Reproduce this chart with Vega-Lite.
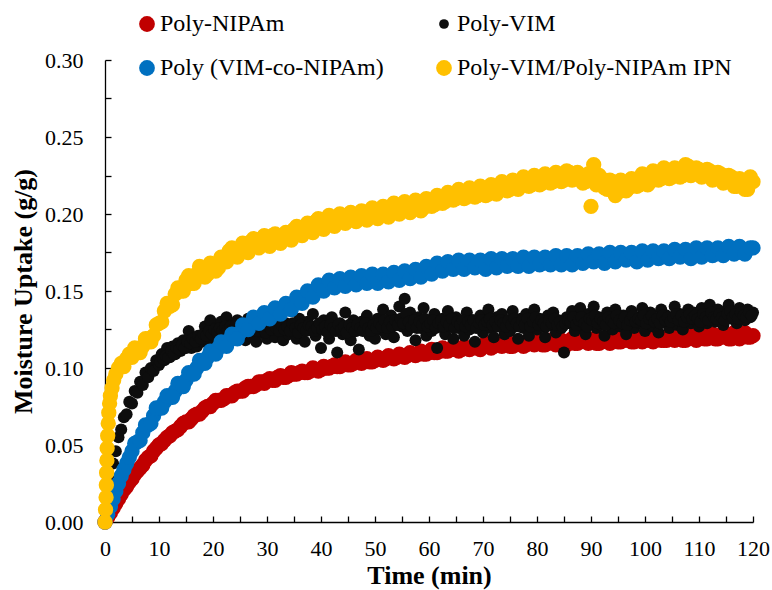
{
  "$schema": "https://vega.github.io/schema/vega-lite/v6.json",
  "width": 648,
  "height": 462,
  "autosize": {"type": "none"},
  "padding": {"left": 105, "top": 60, "right": 19, "bottom": 68},
  "background": "white",
  "config": {
    "view": {"stroke": null},
    "font": "Liberation Serif, Times New Roman, serif",
    "axis": {
      "grid": false,
      "domainColor": "#000000",
      "domainWidth": 1.3,
      "tickColor": "#000000",
      "tickWidth": 1.3,
      "tickSize": -6,
      "labelColor": "#000000",
      "labelFont": "Liberation Serif, Times New Roman, serif",
      "labelFontSize": 22,
      "titleFont": "Liberation Serif, Times New Roman, serif",
      "titleFontSize": 26,
      "titleFontWeight": "bold",
      "titleColor": "#000000"
    }
  },
  "datasets": {
    "nipam": [
      {"t":0,"y":0},{"t":0.5,"y":0.003},{"t":1,"y":0.006},{"t":1.5,"y":0.009},{"t":2,"y":0.012},{"t":2.5,"y":0.015},{"t":3,"y":0.018},{"t":3.5,"y":0.021},{"t":4,"y":0.023},{"t":4.5,"y":0.026},
      {"t":5,"y":0.028},{"t":6,"y":0.033},{"t":7,"y":0.037},{"t":8,"y":0.042},{"t":9,"y":0.046},{"t":10,"y":0.050},{"t":11,"y":0.053},{"t":12,"y":0.056},{"t":13,"y":0.059},{"t":14,"y":0.062},
      {"t":15,"y":0.065},{"t":16,"y":0.067},{"t":17,"y":0.070},{"t":18,"y":0.072},{"t":19,"y":0.075},{"t":20,"y":0.077},{"t":21,"y":0.079},{"t":22,"y":0.080},{"t":23,"y":0.082},{"t":24,"y":0.084},
      {"t":25,"y":0.085},{"t":26,"y":0.087},{"t":27,"y":0.088},{"t":28,"y":0.089},{"t":29,"y":0.091},{"t":30,"y":0.092},{"t":31,"y":0.092},{"t":32,"y":0.094},{"t":33,"y":0.094},{"t":34,"y":0.095},
      {"t":35,"y":0.096},{"t":36,"y":0.097},{"t":37,"y":0.097},{"t":38,"y":0.098},{"t":39,"y":0.099},{"t":40,"y":0.099},{"t":41,"y":0.100},{"t":42,"y":0.101},{"t":43,"y":0.101},{"t":44,"y":0.102},
      {"t":45,"y":0.102},{"t":46,"y":0.103},{"t":47,"y":0.104},{"t":48,"y":0.104},{"t":49,"y":0.104},{"t":50,"y":0.105},{"t":51,"y":0.106},{"t":52,"y":0.106},{"t":53,"y":0.107},{"t":54,"y":0.107},
      {"t":55,"y":0.108},{"t":56,"y":0.108},{"t":57,"y":0.109},{"t":58,"y":0.109},{"t":59,"y":0.109},{"t":60,"y":0.110},{"t":61,"y":0.110},{"t":62,"y":0.111},{"t":63,"y":0.111},{"t":64,"y":0.112},
      {"t":65,"y":0.112},{"t":66,"y":0.112},{"t":67,"y":0.113},{"t":68,"y":0.113},{"t":69,"y":0.113},{"t":70,"y":0.114},{"t":71,"y":0.114},{"t":72,"y":0.114},{"t":73,"y":0.115},{"t":74,"y":0.115},
      {"t":75,"y":0.114},{"t":76,"y":0.115},{"t":77,"y":0.116},{"t":78,"y":0.115},{"t":79,"y":0.116},{"t":80,"y":0.116},{"t":81,"y":0.115},{"t":82,"y":0.116},{"t":83,"y":0.117},{"t":84,"y":0.116},
      {"t":85,"y":0.116},{"t":86,"y":0.117},{"t":87,"y":0.116},{"t":88,"y":0.117},{"t":89,"y":0.117},{"t":90,"y":0.117},{"t":91,"y":0.116},{"t":92,"y":0.117},{"t":93,"y":0.118},{"t":94,"y":0.117},
      {"t":95,"y":0.117},{"t":96,"y":0.118},{"t":97,"y":0.118},{"t":98,"y":0.117},{"t":99,"y":0.118},{"t":100,"y":0.118},{"t":101,"y":0.118},{"t":102,"y":0.119},{"t":103,"y":0.118},{"t":104,"y":0.118},
      {"t":105,"y":0.119},{"t":106,"y":0.119},{"t":107,"y":0.118},{"t":108,"y":0.119},{"t":109,"y":0.120},{"t":110,"y":0.119},{"t":111,"y":0.119},{"t":112,"y":0.120},{"t":113,"y":0.119},{"t":114,"y":0.120},
      {"t":115,"y":0.120},{"t":116,"y":0.119},{"t":117,"y":0.120},{"t":118,"y":0.121},{"t":119,"y":0.120},{"t":120,"y":0.121},
      {"t":5.5,"y":0.031},{"t":6.5,"y":0.035},{"t":7.5,"y":0.040},{"t":8.5,"y":0.043},{"t":9.5,"y":0.048},{"t":10.5,"y":0.051},{"t":11.5,"y":0.055},{"t":12.5,"y":0.058},{"t":13.5,"y":0.060},{"t":14.5,"y":0.064},
      {"t":15.5,"y":0.065},{"t":16.5,"y":0.069},{"t":17.5,"y":0.070},{"t":18.5,"y":0.074},{"t":19.5,"y":0.075},{"t":20.5,"y":0.079},{"t":21.5,"y":0.079},{"t":22.5,"y":0.082},{"t":23.5,"y":0.082},{"t":24.5,"y":0.085},
      {"t":25.5,"y":0.085},{"t":26.5,"y":0.088},{"t":27.5,"y":0.088},{"t":28.5,"y":0.091},{"t":29.5,"y":0.090},{"t":30.5,"y":0.093},{"t":31.5,"y":0.092},{"t":32.5,"y":0.095},{"t":33.5,"y":0.094},{"t":34.5,"y":0.097},
      {"t":35.5,"y":0.096},{"t":36.5,"y":0.098},{"t":37.5,"y":0.097},{"t":38.5,"y":0.100},{"t":39.5,"y":0.098},{"t":40.5,"y":0.101},{"t":41.5,"y":0.100},{"t":42.5,"y":0.102},{"t":43.5,"y":0.101},{"t":44.5,"y":0.104},
      {"t":45.5,"y":0.102},{"t":46.5,"y":0.105},{"t":47.5,"y":0.103},{"t":48.5,"y":0.106},{"t":49.5,"y":0.104},{"t":50.5,"y":0.107},{"t":51.5,"y":0.105},{"t":52.5,"y":0.108},{"t":53.5,"y":0.106},{"t":54.5,"y":0.109},
      {"t":55.5,"y":0.107},{"t":56.5,"y":0.110},{"t":57.5,"y":0.108},{"t":58.5,"y":0.111},{"t":59.5,"y":0.109},{"t":60.5,"y":0.112},{"t":61.5,"y":0.110},{"t":62.5,"y":0.113},{"t":63.5,"y":0.111},{"t":64.5,"y":0.114},
      {"t":65.5,"y":0.111},{"t":66.5,"y":0.114},{"t":67.5,"y":0.112},{"t":68.5,"y":0.115},{"t":69.5,"y":0.112},{"t":70.5,"y":0.116},{"t":71.5,"y":0.113},{"t":72.5,"y":0.116},{"t":73.5,"y":0.114},{"t":74.5,"y":0.117},
      {"t":75.5,"y":0.114},{"t":76.5,"y":0.117},{"t":77.5,"y":0.114},{"t":78.5,"y":0.118},{"t":79.5,"y":0.115},{"t":80.5,"y":0.118},{"t":81.5,"y":0.115},{"t":82.5,"y":0.118},{"t":83.5,"y":0.115},{"t":84.5,"y":0.118},
      {"t":85.5,"y":0.115},{"t":86.5,"y":0.119},{"t":87.5,"y":0.116},{"t":88.5,"y":0.119},{"t":89.5,"y":0.116},{"t":90.5,"y":0.119},{"t":91.5,"y":0.116},{"t":92.5,"y":0.119},{"t":93.5,"y":0.116},{"t":94.5,"y":0.120},
      {"t":95.5,"y":0.117},{"t":96.5,"y":0.120},{"t":97.5,"y":0.117},{"t":98.5,"y":0.120},{"t":99.5,"y":0.117},{"t":100.5,"y":0.121},{"t":101.5,"y":0.117},{"t":102.5,"y":0.121},{"t":103.5,"y":0.118},{"t":104.5,"y":0.121},
      {"t":105.5,"y":0.118},{"t":106.5,"y":0.121},{"t":107.5,"y":0.118},{"t":108.5,"y":0.122},{"t":109.5,"y":0.118},{"t":110.5,"y":0.122},{"t":111.5,"y":0.119},{"t":112.5,"y":0.122},{"t":113.5,"y":0.119},{"t":114.5,"y":0.123},
      {"t":115.5,"y":0.119},{"t":116.5,"y":0.123},{"t":117.5,"y":0.119},{"t":118.5,"y":0.123},{"t":119.5,"y":0.120}
    ],
    "vim": [
      {"t":0,"y":0},{"t":0.5,"y":0.015},{"t":1,"y":0.027},{"t":1.5,"y":0.038},{"t":2,"y":0.046},{"t":2.5,"y":0.055},{"t":3,"y":0.060},{"t":3.5,"y":0.068},{"t":4,"y":0.070},{"t":4.5,"y":0.078},
      {"t":5,"y":0.077},{"t":5.5,"y":0.085},{"t":6,"y":0.084},{"t":6.5,"y":0.091},{"t":7,"y":0.089},{"t":7.5,"y":0.097},{"t":8,"y":0.094},{"t":8.5,"y":0.100},{"t":9,"y":0.098},{"t":9.5,"y":0.105},
      {"t":10,"y":0.102},{"t":10.5,"y":0.109},{"t":11,"y":0.105},{"t":11.5,"y":0.113},{"t":12,"y":0.107},{"t":12.5,"y":0.114},{"t":13,"y":0.109},{"t":13.5,"y":0.116},{"t":14,"y":0.111},{"t":14.5,"y":0.118},
      {"t":15,"y":0.113},{"t":15.5,"y":0.124},{"t":16,"y":0.113},{"t":16.5,"y":0.119},{"t":17,"y":0.114},{"t":17.5,"y":0.121},{"t":18,"y":0.117},{"t":18.5,"y":0.127},{"t":19,"y":0.118},{"t":19.5,"y":0.131},
      {"t":20,"y":0.119},{"t":20.5,"y":0.126},{"t":21,"y":0.121},{"t":21.5,"y":0.130},{"t":22,"y":0.119},{"t":22.5,"y":0.133},{"t":23,"y":0.122},{"t":23.5,"y":0.128},{"t":24,"y":0.120},{"t":24.5,"y":0.131},
      {"t":25,"y":0.122},{"t":25.5,"y":0.129},{"t":26,"y":0.118},{"t":26.5,"y":0.132},{"t":27,"y":0.121},{"t":27.5,"y":0.127},{"t":28,"y":0.117},{"t":28.5,"y":0.133},{"t":29,"y":0.123},{"t":29.5,"y":0.128},
      {"t":30,"y":0.119},{"t":30.5,"y":0.134},{"t":31,"y":0.124},{"t":31.5,"y":0.120},{"t":32,"y":0.131},{"t":32.5,"y":0.125},{"t":33,"y":0.118},{"t":33.5,"y":0.129},{"t":34,"y":0.122},{"t":34.5,"y":0.137},
      {"t":35,"y":0.126},{"t":35.5,"y":0.119},{"t":36,"y":0.132},{"t":36.5,"y":0.124},{"t":37,"y":0.117},{"t":37.5,"y":0.130},{"t":38,"y":0.125},{"t":38.5,"y":0.135},{"t":39,"y":0.121},{"t":39.5,"y":0.128},
      {"t":40,"y":0.113},{"t":40.5,"y":0.131},{"t":41,"y":0.124},{"t":41.5,"y":0.119},{"t":42,"y":0.133},{"t":42.5,"y":0.126},{"t":43,"y":0.110},{"t":43.5,"y":0.129},{"t":44,"y":0.122},{"t":44.5,"y":0.136},
      {"t":45,"y":0.125},{"t":45.5,"y":0.118},{"t":46,"y":0.131},{"t":46.5,"y":0.124},{"t":47,"y":0.112},{"t":47.5,"y":0.130},{"t":48,"y":0.127},{"t":48.5,"y":0.134},{"t":49,"y":0.121},{"t":49.5,"y":0.128},
      {"t":50,"y":0.119},{"t":50.5,"y":0.132},{"t":51,"y":0.125},{"t":51.5,"y":0.138},{"t":52,"y":0.122},{"t":52.5,"y":0.129},{"t":53,"y":0.134},{"t":53.5,"y":0.120},{"t":54,"y":0.131},{"t":54.5,"y":0.140},
      {"t":55,"y":0.127},{"t":55.5,"y":0.145},{"t":56,"y":0.124},{"t":56.5,"y":0.136},{"t":57,"y":0.129},{"t":57.5,"y":0.118},{"t":58,"y":0.133},{"t":58.5,"y":0.126},{"t":59,"y":0.139},{"t":59.5,"y":0.121},
      {"t":60,"y":0.130},{"t":60.5,"y":0.124},{"t":61,"y":0.135},{"t":61.5,"y":0.113},{"t":62,"y":0.128},{"t":62.5,"y":0.132},{"t":63,"y":0.122},{"t":63.5,"y":0.137},{"t":64,"y":0.127},{"t":64.5,"y":0.119},
      {"t":65,"y":0.133},{"t":65.5,"y":0.126},{"t":66,"y":0.130},{"t":66.5,"y":0.121},{"t":67,"y":0.136},{"t":67.5,"y":0.125},{"t":68,"y":0.131},{"t":68.5,"y":0.117},{"t":69,"y":0.129},{"t":69.5,"y":0.134},
      {"t":70,"y":0.123},{"t":70.5,"y":0.131},{"t":71,"y":0.138},{"t":71.5,"y":0.126},{"t":72,"y":0.120},{"t":72.5,"y":0.133},{"t":73,"y":0.128},{"t":73.5,"y":0.135},{"t":74,"y":0.122},{"t":74.5,"y":0.130},
      {"t":75,"y":0.124},{"t":75.5,"y":0.137},{"t":76,"y":0.127},{"t":76.5,"y":0.119},{"t":77,"y":0.132},{"t":77.5,"y":0.126},{"t":78,"y":0.135},{"t":78.5,"y":0.121},{"t":79,"y":0.130},{"t":79.5,"y":0.138},
      {"t":80,"y":0.125},{"t":80.5,"y":0.132},{"t":81,"y":0.127},{"t":81.5,"y":0.120},{"t":82,"y":0.134},{"t":82.5,"y":0.128},{"t":83,"y":0.136},{"t":83.5,"y":0.123},{"t":84,"y":0.131},{"t":84.5,"y":0.126},
      {"t":85,"y":0.110},{"t":85.5,"y":0.133},{"t":86,"y":0.129},{"t":86.5,"y":0.137},{"t":87,"y":0.124},{"t":87.5,"y":0.131},{"t":88,"y":0.139},{"t":88.5,"y":0.127},{"t":89,"y":0.122},{"t":89.5,"y":0.135},
      {"t":90,"y":0.130},{"t":90.5,"y":0.140},{"t":91,"y":0.126},{"t":91.5,"y":0.133},{"t":92,"y":0.128},{"t":92.5,"y":0.121},{"t":93,"y":0.136},{"t":93.5,"y":0.130},{"t":94,"y":0.125},{"t":94.5,"y":0.138},
      {"t":95,"y":0.131},{"t":95.5,"y":0.127},{"t":96,"y":0.134},{"t":96.5,"y":0.122},{"t":97,"y":0.130},{"t":97.5,"y":0.137},{"t":98,"y":0.126},{"t":98.5,"y":0.133},{"t":99,"y":0.129},{"t":99.5,"y":0.139},
      {"t":100,"y":0.124},{"t":100.5,"y":0.132},{"t":101,"y":0.136},{"t":101.5,"y":0.127},{"t":102,"y":0.131},{"t":102.5,"y":0.123},{"t":103,"y":0.138},{"t":103.5,"y":0.130},{"t":104,"y":0.134},{"t":104.5,"y":0.126},
      {"t":105,"y":0.132},{"t":105.5,"y":0.140},{"t":106,"y":0.128},{"t":106.5,"y":0.135},{"t":107,"y":0.125},{"t":107.5,"y":0.133},{"t":108,"y":0.138},{"t":108.5,"y":0.129},{"t":109,"y":0.136},{"t":109.5,"y":0.131},
      {"t":110,"y":0.127},{"t":110.5,"y":0.139},{"t":111,"y":0.133},{"t":111.5,"y":0.129},{"t":112,"y":0.141},{"t":112.5,"y":0.135},{"t":113,"y":0.130},{"t":113.5,"y":0.138},{"t":114,"y":0.133},{"t":114.5,"y":0.128},
      {"t":115,"y":0.137},{"t":115.5,"y":0.141},{"t":116,"y":0.132},{"t":116.5,"y":0.136},{"t":117,"y":0.129},{"t":117.5,"y":0.139},{"t":118,"y":0.134},{"t":118.5,"y":0.131},{"t":119,"y":0.138},{"t":119.5,"y":0.133},
      {"t":120,"y":0.136},
      {"t":10.25,"y":0.104},{"t":10.75,"y":0.106},{"t":11.25,"y":0.108},{"t":11.75,"y":0.107},{"t":12.25,"y":0.111},{"t":12.75,"y":0.109},{"t":13.25,"y":0.113},{"t":13.75,"y":0.112},{"t":14.25,"y":0.115},{"t":14.75,"y":0.113},
      {"t":15.25,"y":0.117},{"t":15.75,"y":0.116},{"t":16.25,"y":0.119},{"t":16.75,"y":0.117},{"t":17.25,"y":0.121},{"t":17.75,"y":0.119},{"t":18.25,"y":0.122},{"t":18.75,"y":0.121},{"t":19.25,"y":0.124},{"t":19.75,"y":0.122},
      {"t":20.25,"y":0.125},{"t":20.75,"y":0.123},{"t":21.25,"y":0.126},{"t":21.75,"y":0.124},{"t":22.25,"y":0.127},{"t":22.75,"y":0.125},{"t":23.25,"y":0.127},{"t":23.75,"y":0.125},{"t":24.25,"y":0.128},{"t":24.75,"y":0.124},
      {"t":25.25,"y":0.127},{"t":25.75,"y":0.125},{"t":26.25,"y":0.128},{"t":26.75,"y":0.124},{"t":27.25,"y":0.127},{"t":27.75,"y":0.126},{"t":28.25,"y":0.124},{"t":28.75,"y":0.128},{"t":29.25,"y":0.126},{"t":29.75,"y":0.123},
      {"t":30.25,"y":0.127},{"t":30.75,"y":0.125},{"t":31.25,"y":0.129},{"t":31.75,"y":0.126},{"t":32.25,"y":0.124},{"t":32.75,"y":0.128},{"t":33.25,"y":0.125},{"t":33.75,"y":0.127},{"t":34.25,"y":0.124},{"t":34.75,"y":0.129},
      {"t":35.25,"y":0.126},{"t":35.75,"y":0.123},{"t":36.25,"y":0.128},{"t":36.75,"y":0.126},{"t":37.25,"y":0.124},{"t":37.75,"y":0.128},{"t":38.25,"y":0.127},{"t":38.75,"y":0.124},{"t":39.25,"y":0.126},{"t":39.75,"y":0.129},
      {"t":40.25,"y":0.125},{"t":40.75,"y":0.127},{"t":41.25,"y":0.123},{"t":41.75,"y":0.128},{"t":42.25,"y":0.126},{"t":42.75,"y":0.124},{"t":43.25,"y":0.128},{"t":43.75,"y":0.125},{"t":44.25,"y":0.127},{"t":44.75,"y":0.123},
      {"t":45.25,"y":0.128},{"t":45.75,"y":0.126},{"t":46.25,"y":0.124},{"t":46.75,"y":0.128},{"t":47.25,"y":0.126},{"t":47.75,"y":0.124},{"t":48.25,"y":0.129},{"t":48.75,"y":0.126},{"t":49.25,"y":0.124},{"t":49.75,"y":0.128},
      {"t":50.25,"y":0.126},{"t":50.75,"y":0.129},{"t":51.25,"y":0.127},{"t":51.75,"y":0.131},{"t":52.25,"y":0.126},{"t":52.75,"y":0.130},{"t":53.25,"y":0.127},{"t":53.75,"y":0.131},{"t":54.25,"y":0.128},{"t":54.75,"y":0.132},
      {"t":55.25,"y":0.129},{"t":55.75,"y":0.135},{"t":56.25,"y":0.130},{"t":56.75,"y":0.127},{"t":57.25,"y":0.131},{"t":57.75,"y":0.126},{"t":58.25,"y":0.130},{"t":58.75,"y":0.128},{"t":59.25,"y":0.132},{"t":59.75,"y":0.127},
      {"t":60.25,"y":0.129},{"t":60.75,"y":0.131},{"t":61.25,"y":0.126},{"t":61.75,"y":0.129},{"t":62.25,"y":0.131},{"t":62.75,"y":0.127},{"t":63.25,"y":0.130},{"t":63.75,"y":0.128},{"t":64.25,"y":0.132},{"t":64.75,"y":0.126},
      {"t":65.25,"y":0.130},{"t":65.75,"y":0.128},{"t":66.25,"y":0.131},{"t":66.75,"y":0.127},{"t":67.25,"y":0.130},{"t":67.75,"y":0.128},{"t":68.25,"y":0.131},{"t":68.75,"y":0.126},{"t":69.25,"y":0.129},{"t":69.75,"y":0.131},
      {"t":70.25,"y":0.128},{"t":70.75,"y":0.130},{"t":71.25,"y":0.132},{"t":71.75,"y":0.128},{"t":72.25,"y":0.130},{"t":72.75,"y":0.127},{"t":73.25,"y":0.131},{"t":73.75,"y":0.129},{"t":74.25,"y":0.127},{"t":74.75,"y":0.131},
      {"t":75.25,"y":0.128},{"t":75.75,"y":0.132},{"t":76.25,"y":0.129},{"t":76.75,"y":0.127},{"t":77.25,"y":0.131},{"t":77.75,"y":0.128},{"t":78.25,"y":0.132},{"t":78.75,"y":0.127},{"t":79.25,"y":0.130},{"t":79.75,"y":0.133},
      {"t":80.25,"y":0.128},{"t":80.75,"y":0.131},{"t":81.25,"y":0.129},{"t":81.75,"y":0.127},{"t":82.25,"y":0.131},{"t":82.75,"y":0.129},{"t":83.25,"y":0.132},{"t":83.75,"y":0.128},{"t":84.25,"y":0.130},{"t":84.75,"y":0.127},
      {"t":85.25,"y":0.129},{"t":85.75,"y":0.131},{"t":86.25,"y":0.130},{"t":86.75,"y":0.133},{"t":87.25,"y":0.128},{"t":87.75,"y":0.131},{"t":88.25,"y":0.133},{"t":88.75,"y":0.129},{"t":89.25,"y":0.127},{"t":89.75,"y":0.132},
      {"t":90.25,"y":0.131},{"t":90.75,"y":0.134},{"t":91.25,"y":0.129},{"t":91.75,"y":0.132},{"t":92.25,"y":0.130},{"t":92.75,"y":0.128},{"t":93.25,"y":0.133},{"t":93.75,"y":0.131},{"t":94.25,"y":0.129},{"t":94.75,"y":0.134},
      {"t":95.25,"y":0.131},{"t":95.75,"y":0.129},{"t":96.25,"y":0.133},{"t":96.75,"y":0.128},{"t":97.25,"y":0.131},{"t":97.75,"y":0.134},{"t":98.25,"y":0.130},{"t":98.75,"y":0.132},{"t":99.25,"y":0.131},{"t":99.75,"y":0.134},
      {"t":100.25,"y":0.129},{"t":100.75,"y":0.132},{"t":101.25,"y":0.134},{"t":101.75,"y":0.130},{"t":102.25,"y":0.132},{"t":102.75,"y":0.129},{"t":103.25,"y":0.134},{"t":103.75,"y":0.131},{"t":104.25,"y":0.133},{"t":104.75,"y":0.130},
      {"t":105.25,"y":0.133},{"t":105.75,"y":0.135},{"t":106.25,"y":0.131},{"t":106.75,"y":0.134},{"t":107.25,"y":0.130},{"t":107.75,"y":0.133},{"t":108.25,"y":0.135},{"t":108.75,"y":0.132},{"t":109.25,"y":0.134},{"t":109.75,"y":0.132},
      {"t":110.25,"y":0.130},{"t":110.75,"y":0.135},{"t":111.25,"y":0.133},{"t":111.75,"y":0.131},{"t":112.25,"y":0.136},{"t":112.75,"y":0.133},{"t":113.25,"y":0.132},{"t":113.75,"y":0.135},{"t":114.25,"y":0.133},{"t":114.75,"y":0.131},
      {"t":115.25,"y":0.135},{"t":115.75,"y":0.137},{"t":116.25,"y":0.133},{"t":116.75,"y":0.135},{"t":117.25,"y":0.132},{"t":117.75,"y":0.136},{"t":118.25,"y":0.134},{"t":118.75,"y":0.133},{"t":119.25,"y":0.136},{"t":119.75,"y":0.134}
    ],
    "copolymer": [
      {"t":0,"y":0},{"t":0.5,"y":0.005},{"t":1,"y":0.010},{"t":1.5,"y":0.015},{"t":2,"y":0.020},{"t":2.5,"y":0.025},{"t":3,"y":0.030},{"t":3.5,"y":0.034},{"t":4,"y":0.038},{"t":4.5,"y":0.042},
      {"t":5,"y":0.046},{"t":6,"y":0.052},{"t":7,"y":0.058},{"t":8,"y":0.063},{"t":9,"y":0.069},{"t":10,"y":0.074},{"t":11,"y":0.078},{"t":12,"y":0.081},{"t":13,"y":0.085},{"t":14,"y":0.089},
      {"t":15,"y":0.092},{"t":16,"y":0.096},{"t":17,"y":0.100},{"t":18,"y":0.104},{"t":19,"y":0.107},{"t":20,"y":0.110},{"t":21,"y":0.113},{"t":22,"y":0.115},{"t":23,"y":0.118},{"t":24,"y":0.121},
      {"t":25,"y":0.123},{"t":26,"y":0.126},{"t":27,"y":0.129},{"t":28,"y":0.131},{"t":29,"y":0.132},{"t":30,"y":0.134},{"t":31,"y":0.135},{"t":32,"y":0.137},{"t":33,"y":0.139},{"t":34,"y":0.140},
      {"t":35,"y":0.142},{"t":36,"y":0.144},{"t":37,"y":0.146},{"t":38,"y":0.148},{"t":39,"y":0.150},{"t":40,"y":0.152},{"t":41,"y":0.153},{"t":42,"y":0.154},{"t":43,"y":0.155},{"t":44,"y":0.155},
      {"t":45,"y":0.156},{"t":46,"y":0.156},{"t":47,"y":0.156},{"t":48,"y":0.157},{"t":49,"y":0.158},{"t":50,"y":0.157},{"t":51,"y":0.158},{"t":52,"y":0.158},{"t":53,"y":0.159},{"t":54,"y":0.158},
      {"t":55,"y":0.160},{"t":56,"y":0.160},{"t":57,"y":0.161},{"t":58,"y":0.161},{"t":59,"y":0.162},{"t":60,"y":0.163},{"t":61,"y":0.164},{"t":62,"y":0.165},{"t":63,"y":0.166},{"t":64,"y":0.166},
      {"t":65,"y":0.167},{"t":66,"y":0.166},{"t":67,"y":0.167},{"t":68,"y":0.168},{"t":69,"y":0.167},{"t":70,"y":0.166},{"t":71,"y":0.167},{"t":72,"y":0.168},{"t":73,"y":0.167},{"t":74,"y":0.169},
      {"t":75,"y":0.168},{"t":76,"y":0.167},{"t":77,"y":0.169},{"t":78,"y":0.168},{"t":79,"y":0.169},{"t":80,"y":0.170},{"t":81,"y":0.168},{"t":82,"y":0.169},{"t":83,"y":0.170},{"t":84,"y":0.169},
      {"t":85,"y":0.171},{"t":86,"y":0.170},{"t":87,"y":0.169},{"t":88,"y":0.171},{"t":89,"y":0.170},{"t":90,"y":0.171},{"t":91,"y":0.172},{"t":92,"y":0.170},{"t":93,"y":0.171},{"t":94,"y":0.172},
      {"t":95,"y":0.171},{"t":96,"y":0.173},{"t":97,"y":0.172},{"t":98,"y":0.171},{"t":99,"y":0.173},{"t":100,"y":0.172},{"t":101,"y":0.174},{"t":102,"y":0.173},{"t":103,"y":0.172},{"t":104,"y":0.174},
      {"t":105,"y":0.173},{"t":106,"y":0.175},{"t":107,"y":0.174},{"t":108,"y":0.173},{"t":109,"y":0.175},{"t":110,"y":0.174},{"t":111,"y":0.176},{"t":112,"y":0.175},{"t":113,"y":0.174},{"t":114,"y":0.176},
      {"t":115,"y":0.175},{"t":116,"y":0.177},{"t":117,"y":0.176},{"t":118,"y":0.175},{"t":119,"y":0.177},{"t":120,"y":0.178},
      {"t":5.5,"y":0.051},{"t":6.5,"y":0.053},{"t":7.5,"y":0.063},{"t":8.5,"y":0.064},{"t":9.5,"y":0.074},{"t":10.5,"y":0.074},{"t":11.5,"y":0.082},{"t":12.5,"y":0.081},{"t":13.5,"y":0.090},{"t":14.5,"y":0.088},
      {"t":15.5,"y":0.097},{"t":16.5,"y":0.096},{"t":17.5,"y":0.105},{"t":18.5,"y":0.103},{"t":19.5,"y":0.111},{"t":20.5,"y":0.109},{"t":21.5,"y":0.117},{"t":22.5,"y":0.114},{"t":23.5,"y":0.122},{"t":24.5,"y":0.119},
      {"t":25.5,"y":0.128},{"t":26.5,"y":0.125},{"t":27.5,"y":0.133},{"t":28.5,"y":0.129},{"t":29.5,"y":0.136},{"t":30.5,"y":0.132},{"t":31.5,"y":0.139},{"t":32.5,"y":0.135},{"t":33.5,"y":0.142},{"t":34.5,"y":0.138},
      {"t":35.5,"y":0.146},{"t":36.5,"y":0.142},{"t":37.5,"y":0.150},{"t":38.5,"y":0.146},{"t":39.5,"y":0.154},{"t":40.5,"y":0.150},{"t":41.5,"y":0.157},{"t":42.5,"y":0.152},{"t":43.5,"y":0.158},{"t":44.5,"y":0.153},
      {"t":45.5,"y":0.159},{"t":46.5,"y":0.154},{"t":47.5,"y":0.160},{"t":48.5,"y":0.155},{"t":49.5,"y":0.161},{"t":50.5,"y":0.155},{"t":51.5,"y":0.161},{"t":52.5,"y":0.156},{"t":53.5,"y":0.162},{"t":54.5,"y":0.157},
      {"t":55.5,"y":0.163},{"t":56.5,"y":0.158},{"t":57.5,"y":0.164},{"t":58.5,"y":0.159},{"t":59.5,"y":0.166},{"t":60.5,"y":0.161},{"t":61.5,"y":0.168},{"t":62.5,"y":0.163},{"t":63.5,"y":0.169},{"t":64.5,"y":0.164},
      {"t":65.5,"y":0.170},{"t":66.5,"y":0.164},{"t":67.5,"y":0.170},{"t":68.5,"y":0.165},{"t":69.5,"y":0.170},{"t":70.5,"y":0.164},{"t":71.5,"y":0.171},{"t":72.5,"y":0.165},{"t":73.5,"y":0.171},{"t":74.5,"y":0.166},
      {"t":75.5,"y":0.171},{"t":76.5,"y":0.166},{"t":77.5,"y":0.172},{"t":78.5,"y":0.166},{"t":79.5,"y":0.172},{"t":80.5,"y":0.167},{"t":81.5,"y":0.172},{"t":82.5,"y":0.167},{"t":83.5,"y":0.173},{"t":84.5,"y":0.167},
      {"t":85.5,"y":0.173},{"t":86.5,"y":0.167},{"t":87.5,"y":0.173},{"t":88.5,"y":0.168},{"t":89.5,"y":0.174},{"t":90.5,"y":0.169},{"t":91.5,"y":0.174},{"t":92.5,"y":0.168},{"t":93.5,"y":0.175},{"t":94.5,"y":0.169},
      {"t":95.5,"y":0.175},{"t":96.5,"y":0.170},{"t":97.5,"y":0.175},{"t":98.5,"y":0.169},{"t":99.5,"y":0.176},{"t":100.5,"y":0.170},{"t":101.5,"y":0.176},{"t":102.5,"y":0.171},{"t":103.5,"y":0.176},{"t":104.5,"y":0.171},
      {"t":105.5,"y":0.177},{"t":106.5,"y":0.172},{"t":107.5,"y":0.177},{"t":108.5,"y":0.171},{"t":109.5,"y":0.178},{"t":110.5,"y":0.172},{"t":111.5,"y":0.178},{"t":112.5,"y":0.173},{"t":113.5,"y":0.178},{"t":114.5,"y":0.173},
      {"t":115.5,"y":0.179},{"t":116.5,"y":0.174},{"t":117.5,"y":0.179},{"t":118.5,"y":0.174},{"t":119.5,"y":0.178}
    ],
    "ipn": [
      {"t":0,"y":0},{"t":0.1,"y":0.008},{"t":0.2,"y":0.016},{"t":0.25,"y":0.024},{"t":0.3,"y":0.032},{"t":0.35,"y":0.040},{"t":0.4,"y":0.048},{"t":0.5,"y":0.056},{"t":0.6,"y":0.064},{"t":0.7,"y":0.071},
      {"t":0.85,"y":0.077},{"t":1,"y":0.082},{"t":1.3,"y":0.087},{"t":1.6,"y":0.092},{"t":2,"y":0.096},{"t":2.5,"y":0.100},{"t":3,"y":0.103},{"t":3.5,"y":0.101},{"t":4,"y":0.106},{"t":4.5,"y":0.109},
      {"t":5,"y":0.107},{"t":6,"y":0.112},{"t":7,"y":0.114},{"t":8,"y":0.119},{"t":9,"y":0.121},{"t":10,"y":0.129},{"t":11,"y":0.137},{"t":12,"y":0.140},{"t":13,"y":0.148},{"t":14,"y":0.150},
      {"t":15,"y":0.157},{"t":16,"y":0.155},{"t":17,"y":0.161},{"t":18,"y":0.164},{"t":19,"y":0.161},{"t":20,"y":0.167},{"t":21,"y":0.165},{"t":22,"y":0.172},{"t":23,"y":0.176},{"t":24,"y":0.173},
      {"t":25,"y":0.178},{"t":26,"y":0.176},{"t":27,"y":0.182},{"t":28,"y":0.179},{"t":29,"y":0.184},{"t":30,"y":0.181},{"t":31,"y":0.186},{"t":32,"y":0.182},{"t":33,"y":0.185},{"t":34,"y":0.184},
      {"t":35,"y":0.190},{"t":36,"y":0.187},{"t":37,"y":0.192},{"t":38,"y":0.189},{"t":39,"y":0.195},{"t":40,"y":0.192},{"t":41,"y":0.197},{"t":42,"y":0.194},{"t":43,"y":0.198},{"t":44,"y":0.195},
      {"t":45,"y":0.199},{"t":46,"y":0.196},{"t":47,"y":0.200},{"t":48,"y":0.197},{"t":49,"y":0.202},{"t":50,"y":0.199},{"t":51,"y":0.203},{"t":52,"y":0.200},{"t":53,"y":0.205},{"t":54,"y":0.201},
      {"t":55,"y":0.206},{"t":56,"y":0.203},{"t":57,"y":0.204},{"t":58,"y":0.207},{"t":59,"y":0.204},{"t":60,"y":0.209},{"t":61,"y":0.206},{"t":62,"y":0.211},{"t":63,"y":0.208},{"t":64,"y":0.213},
      {"t":65,"y":0.210},{"t":66,"y":0.214},{"t":67,"y":0.211},{"t":68,"y":0.215},{"t":69,"y":0.212},{"t":70,"y":0.216},{"t":71,"y":0.213},{"t":72,"y":0.217},{"t":73,"y":0.215},{"t":74,"y":0.219},
      {"t":75,"y":0.216},{"t":76,"y":0.221},{"t":77,"y":0.218},{"t":78,"y":0.222},{"t":79,"y":0.219},{"t":80,"y":0.223},{"t":81,"y":0.220},{"t":82,"y":0.224},{"t":83,"y":0.221},{"t":84,"y":0.226},
      {"t":85,"y":0.222},{"t":86,"y":0.227},{"t":87,"y":0.223},{"t":88,"y":0.225},{"t":89,"y":0.221},{"t":90,"y":0.205},{"t":90.5,"y":0.232},{"t":91,"y":0.219},{"t":92,"y":0.223},{"t":93,"y":0.216},
      {"t":94,"y":0.221},{"t":95,"y":0.214},{"t":96,"y":0.220},{"t":97,"y":0.217},{"t":98,"y":0.222},{"t":99,"y":0.219},{"t":100,"y":0.224},{"t":101,"y":0.221},{"t":102,"y":0.226},{"t":103,"y":0.223},
      {"t":104,"y":0.228},{"t":105,"y":0.224},{"t":106,"y":0.229},{"t":107,"y":0.225},{"t":108,"y":0.231},{"t":109,"y":0.226},{"t":110,"y":0.229},{"t":111,"y":0.225},{"t":112,"y":0.228},{"t":113,"y":0.223},
      {"t":114,"y":0.226},{"t":115,"y":0.221},{"t":116,"y":0.224},{"t":117,"y":0.218},{"t":118,"y":0.222},{"t":119,"y":0.216},{"t":120,"y":0.221},
      {"t":5.5,"y":0.113},{"t":6.5,"y":0.110},{"t":7.5,"y":0.119},{"t":8.5,"y":0.117},{"t":9.5,"y":0.128},{"t":10.5,"y":0.130},{"t":11.5,"y":0.142},{"t":12.5,"y":0.141},{"t":13.5,"y":0.152},{"t":14.5,"y":0.150},
      {"t":15.5,"y":0.160},{"t":16.5,"y":0.155},{"t":17.5,"y":0.166},{"t":18.5,"y":0.159},{"t":19.5,"y":0.168},{"t":20.5,"y":0.163},{"t":21.5,"y":0.172},{"t":22.5,"y":0.169},{"t":23.5,"y":0.178},{"t":24.5,"y":0.172},
      {"t":25.5,"y":0.181},{"t":26.5,"y":0.175},{"t":27.5,"y":0.184},{"t":28.5,"y":0.178},{"t":29.5,"y":0.186},{"t":30.5,"y":0.179},{"t":31.5,"y":0.187},{"t":32.5,"y":0.181},{"t":33.5,"y":0.188},{"t":34.5,"y":0.183},
      {"t":35.5,"y":0.192},{"t":36.5,"y":0.186},{"t":37.5,"y":0.194},{"t":38.5,"y":0.188},{"t":39.5,"y":0.197},{"t":40.5,"y":0.190},{"t":41.5,"y":0.199},{"t":42.5,"y":0.192},{"t":43.5,"y":0.200},{"t":44.5,"y":0.194},
      {"t":45.5,"y":0.201},{"t":46.5,"y":0.195},{"t":47.5,"y":0.202},{"t":48.5,"y":0.196},{"t":49.5,"y":0.204},{"t":50.5,"y":0.197},{"t":51.5,"y":0.205},{"t":52.5,"y":0.198},{"t":53.5,"y":0.207},{"t":54.5,"y":0.200},
      {"t":55.5,"y":0.208},{"t":56.5,"y":0.201},{"t":57.5,"y":0.209},{"t":58.5,"y":0.202},{"t":59.5,"y":0.210},{"t":60.5,"y":0.205},{"t":61.5,"y":0.212},{"t":62.5,"y":0.207},{"t":63.5,"y":0.214},{"t":64.5,"y":0.209},
      {"t":65.5,"y":0.216},{"t":66.5,"y":0.210},{"t":67.5,"y":0.217},{"t":68.5,"y":0.211},{"t":69.5,"y":0.218},{"t":70.5,"y":0.212},{"t":71.5,"y":0.219},{"t":72.5,"y":0.213},{"t":73.5,"y":0.221},{"t":74.5,"y":0.215},
      {"t":75.5,"y":0.222},{"t":76.5,"y":0.216},{"t":77.5,"y":0.224},{"t":78.5,"y":0.218},{"t":79.5,"y":0.225},{"t":80.5,"y":0.219},{"t":81.5,"y":0.226},{"t":82.5,"y":0.220},{"t":83.5,"y":0.227},{"t":84.5,"y":0.221},
      {"t":85.5,"y":0.228},{"t":86.5,"y":0.222},{"t":87.5,"y":0.227},{"t":88.5,"y":0.220},{"t":89.5,"y":0.226},{"t":91.5,"y":0.225},{"t":92.5,"y":0.217},{"t":93.5,"y":0.222},{"t":94.5,"y":0.212},{"t":95.5,"y":0.222},
      {"t":96.5,"y":0.215},{"t":97.5,"y":0.223},{"t":98.5,"y":0.218},{"t":99.5,"y":0.226},{"t":100.5,"y":0.219},{"t":101.5,"y":0.228},{"t":102.5,"y":0.222},{"t":103.5,"y":0.230},{"t":104.5,"y":0.223},{"t":105.5,"y":0.230},
      {"t":106.5,"y":0.224},{"t":107.5,"y":0.232},{"t":108.5,"y":0.225},{"t":109.5,"y":0.230},{"t":110.5,"y":0.224},{"t":111.5,"y":0.229},{"t":112.5,"y":0.222},{"t":113.5,"y":0.227},{"t":114.5,"y":0.220},{"t":115.5,"y":0.225},
      {"t":116.5,"y":0.218},{"t":117.5,"y":0.223},{"t":118.5,"y":0.216},{"t":119.5,"y":0.224}
    ]
  },
  "encoding": {
    "x": {
      "field": "t",
      "type": "quantitative",
      "scale": {"domain": [0, 120], "nice": false, "zero": false},
      "axis": {
        "title": "Time (min)",
        "values": [0,5,10,15,20,25,30,35,40,45,50,55,60,65,70,75,80,85,90,95,100,105,110,115,120],
        "labelExpr": "datum.value % 10 === 0 ? datum.label : ''",
        "labelPadding": 22,
        "titlePadding": 3,
        "labelFlush": false
      }
    },
    "y": {
      "field": "y",
      "type": "quantitative",
      "scale": {"domain": [0, 0.3], "nice": false},
      "axis": {
        "title": "Moisture Uptake (g/g)",
        "values": [0,0.025,0.05,0.075,0.1,0.125,0.15,0.175,0.2,0.225,0.25,0.275,0.3],
        "labelExpr": "round(datum.value * 1000) % 50 === 0 ? format(datum.value, '.2f') : ''",
        "labelPadding": 28,
        "titlePadding": 8,
        "labelFlush": false
      }
    }
  },
  "layer": [
    {
      "data": {"name": "nipam"},
      "mark": {"type": "circle", "size": 235, "opacity": 1},
      "encoding": {
        "color": {
          "datum": "Poly-NIPAm",
          "type": "nominal",
          "scale": {
            "domain": ["Poly-NIPAm", "Poly (VIM-co-NIPAm)", "Poly-VIM", "Poly-VIM/Poly-NIPAm IPN"],
            "range": ["#C00000", "#0070C0", "#0D0D0D", "#FFC000"]
          },
          "legend": {
            "title": null,
            "orient": "none",
            "legendX": 30,
            "legendY": -48,
            "columns": 2,
            "rowPadding": 20,
            "columnPadding": 48,
            "symbolType": "circle",
            "symbolSize": 250,
            "symbolStrokeWidth": 0,
            "symbolOpacity": 1,
            "labelFont": "Liberation Serif, Times New Roman, serif",
            "labelFontSize": 24,
            "labelColor": "#000000",
            "labelOffset": 1,
            "labelLimit": 400,
            "encode": {
              "symbols": {
                "update": {"size": {"signal": "datum.label === 'Poly-VIM' ? 95 : 250"}}
              }
            }
          }
        }
      }
    },
    {
      "data": {"name": "vim"},
      "mark": {"type": "circle", "size": 145, "opacity": 1},
      "encoding": {"color": {"datum": "Poly-VIM", "type": "nominal"}}
    },
    {
      "data": {"name": "copolymer"},
      "mark": {"type": "circle", "size": 235, "opacity": 1},
      "encoding": {"color": {"datum": "Poly (VIM-co-NIPAm)", "type": "nominal"}}
    },
    {
      "data": {"name": "ipn"},
      "mark": {"type": "circle", "size": 235, "opacity": 1},
      "encoding": {"color": {"datum": "Poly-VIM/Poly-NIPAm IPN", "type": "nominal"}}
    }
  ]
}
